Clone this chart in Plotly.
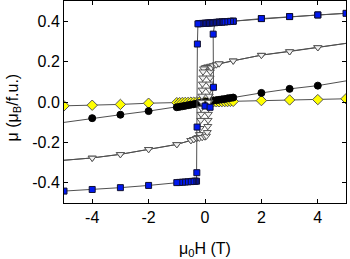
import plotly.graph_objects as go

# ---- Data ----
# Blue squares: virgin rise, upper branch out to +5, back down, switch at ~-0.27, lower branch to -5
sq_x = [0.0, 0.18, 0.30, 0.29,
        0.35, 0.4, 0.45, 0.5, 0.6, 0.7, 0.8, 0.9, 1.0, 2.0, 3.0, 4.0, 5.0,
        4.0, 3.0, 2.0, 1.0, 0.9, 0.8, 0.7, 0.6, 0.5, 0.45, 0.4, 0.35, 0.3, 0.25, 0.2,
        0.15, 0.1, 0.05, 0.0, -0.05, -0.1, -0.15, -0.2, -0.25,
        -0.27, -0.28, -0.29,
        -0.3, -0.35, -0.4, -0.45, -0.5, -0.6, -0.7, -0.8, -0.9, -1.0, -2.0, -3.0, -4.0, -5.0]
sq_y = [-0.020, -0.026, 0.073, 0.336,
        0.393, 0.394, 0.394, 0.395, 0.396, 0.397, 0.398, 0.399, 0.400, 0.413, 0.423, 0.431, 0.439,
        0.431, 0.423, 0.413, 0.400, 0.399, 0.398, 0.397, 0.396, 0.395, 0.394, 0.394, 0.393, 0.393, 0.392, 0.392,
        0.391, 0.391, 0.390, 0.390, 0.389, 0.389, 0.388, 0.388, 0.387,
        0.287, -0.124, -0.350,
        -0.392, -0.392, -0.393, -0.393, -0.394, -0.395, -0.396, -0.397, -0.398, -0.399, -0.413, -0.424, -0.433, -0.441]

# Open down-triangles: descending branch then ascending branch
tri_x = [6.0, 4.0, 3.0, 2.0, 1.0, 0.5, 0.4, 0.3, 0.2, 0.1, 0.05, 0.0, -0.05,
         -0.07, -0.08, -0.09, -0.10, -0.11, -0.12, -0.13, -0.14, -0.15, -0.17,
         -0.2, -0.25, -0.3, -0.4, -0.5, -1.0, -2.0, -3.0, -4.0, -6.0,
         -4.0, -3.0, -2.0, -1.0, -0.5, -0.4, -0.3, -0.2, -0.1, 0.0, 0.05,
         0.08, 0.10, 0.11, 0.12, 0.13, 0.14, 0.15, 0.16, 0.17, 0.18, 0.19,
         0.22, 0.3, 0.4, 0.5, 1.0, 2.0, 3.0, 4.0, 6.0]
tri_y = [0.310, 0.270, 0.250, 0.232, 0.204, 0.190, 0.185, 0.180, 0.178, 0.175, 0.172, 0.170, 0.165,
         0.150, 0.120, 0.090, 0.060, 0.030, 0.000, -0.030, -0.060, -0.090, -0.130,
         -0.160, -0.175, -0.180, -0.185, -0.190, -0.210, -0.234, -0.259, -0.277, -0.300,
         -0.277, -0.259, -0.234, -0.210, -0.190, -0.185, -0.180, -0.178, -0.175, -0.172, -0.168,
         -0.150, -0.120, -0.090, -0.060, -0.030, 0.000, 0.030, 0.060, 0.090, 0.120, 0.150,
         0.170, 0.180, 0.185, 0.190, 0.204, 0.232, 0.250, 0.270, 0.310]

# Black circles
cir_x = [-6.0, -4.0, -3.0, -2.0, -1.0, -0.9, -0.8, -0.7, -0.6, -0.5, -0.4, -0.3, -0.2, -0.1, 0.0,
         0.1, 0.2, 0.3, 0.4, 0.5, 0.6, 0.7, 0.8, 0.9, 1.0, 2.0, 3.0, 4.0, 6.0]
cir_y = [-0.120, -0.080, -0.063, -0.045, -0.026, -0.024, -0.021, -0.019, -0.016, -0.013, -0.011, -0.008,
         -0.005, -0.003, 0.000, 0.002, 0.004, 0.007, 0.009, 0.011, 0.013, 0.015, 0.018, 0.020, 0.022,
         0.045, 0.065, 0.081, 0.128]

# Yellow diamonds
dia_x = [-5.0, -4.0, -3.0, -2.0, -1.0, -0.9, -0.8, -0.7, -0.6, -0.5, -0.4, -0.3, -0.2, -0.1, 0.0,
         0.1, 0.2, 0.3, 0.4, 0.5, 0.6, 0.7, 0.8, 0.9, 1.0, 2.0, 3.0, 4.0, 5.0]
dia_y = [-0.019, -0.016, -0.012, -0.006, -0.003, -0.003, -0.002, -0.002, -0.002, -0.001, -0.001, -0.001,
         0.000, 0.000, 0.000, 0.000, 0.000, 0.001, 0.001, 0.001, 0.002, 0.002, 0.002, 0.003, 0.003,
         0.007, 0.010, 0.012, 0.016]

x_ticks = [-4, -2, 0, 2, 4]
y_ticks = [-0.4, -0.2, 0.0, 0.2, 0.4]
y_tick_text = ["-0.4", "-0.2", "0.0", "0.2", "0.4"]
x_title = "μ<sub>0</sub>H (T)"
y_title = "μ (μ<sub>B</sub>/f.u.)"

LINE = dict(color="#505050", width=1)
FONT = "Liberation Sans, Arial, sans-serif"

fig = go.Figure()
fig.add_trace(go.Scatter(x=dia_x, y=dia_y, mode="lines+markers", line=LINE,
                         marker=dict(symbol="diamond", size=8, color="#FFFF00",
                                     line=dict(color="#555555", width=1))))
fig.add_trace(go.Scatter(x=cir_x, y=cir_y, mode="lines+markers", line=LINE,
                         marker=dict(symbol="circle", size=7, color="#000000",
                                     line=dict(color="#000000", width=1))))
fig.add_trace(go.Scatter(x=tri_x, y=tri_y, mode="lines+markers", line=LINE,
                         marker=dict(symbol="triangle-down", size=7, color="#F2F2F2",
                                     line=dict(color="#555555", width=1))))
fig.add_trace(go.Scatter(x=sq_x, y=sq_y, mode="lines+markers", line=LINE,
                         marker=dict(symbol="square", size=6, color="#0018F0",
                                     line=dict(color="#101030", width=1))))

axis_common = dict(showline=True, linecolor="#000000", linewidth=1, mirror="ticks",
                   ticks="inside", ticklen=4, tickcolor="#000000", showgrid=False,
                   zeroline=False, tickfont=dict(family=FONT, size=16, color="#000000"))

fig.update_layout(
    width=350, height=259,
    margin=dict(l=64, r=4, t=1, b=56),
    paper_bgcolor="white", plot_bgcolor="white",
    showlegend=False,
    font=dict(family=FONT, size=16, color="#000000"),
    xaxis=dict(range=[-5, 5], tickvals=x_ticks, ticktext=[str(v) for v in x_ticks],
               **axis_common),
    yaxis=dict(range=[-0.5, 0.5], tickvals=y_ticks, ticktext=y_tick_text,
               **axis_common),
)

fig.add_annotation(text=x_title, xref="paper", yref="paper", x=0.5, y=0,
                   xanchor="center", yanchor="top", yshift=-35, showarrow=False,
                   font=dict(family=FONT, size=16, color="#000000"))
fig.add_annotation(text=y_title, xref="paper", yref="paper", x=0, y=0.5,
                   xanchor="left", yanchor="middle", xshift=-63, yshift=-6,
                   textangle=-90, showarrow=False,
                   font=dict(family=FONT, size=16, color="#000000"))

fig.write_html("out.html", config={"displayModeBar": False},
               post_script="document.body.style.margin='0';document.body.style.padding='0';")
